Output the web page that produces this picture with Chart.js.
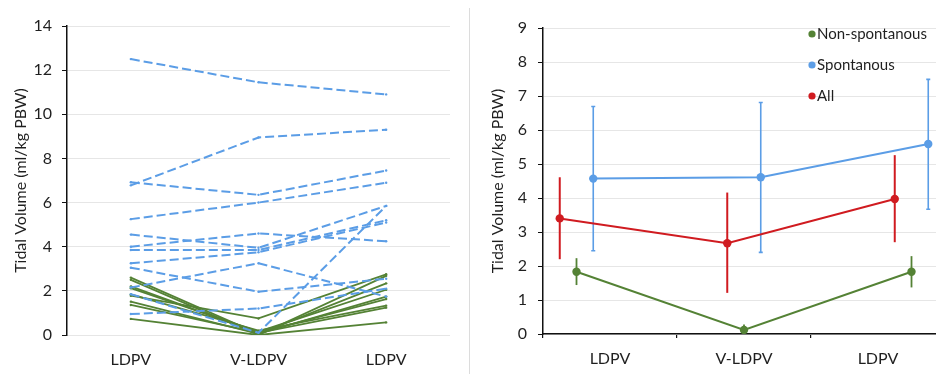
<!DOCTYPE html>
<html>
<head>
<meta charset="utf-8">
<script src="https://cdn.jsdelivr.net/npm/chart.js@4/dist/chart.umd.min.js"></script>
<style>
  html, body { margin: 0; padding: 0; background: #fff; }
  body { width: 936px; height: 374px; position: relative; overflow: hidden; }
  #left { position: absolute; left: 0; top: 0; width: 469px; height: 374px; }
  #right { position: absolute; left: 470px; top: 0; width: 490px; height: 374px; }
  #sep { position: absolute; left: 469px; top: 8px; width: 1px; height: 366px; background: #dcdcdc; }
</style>
</head>
<body>
<div id="left"><canvas id="patientChart"></canvas></div>
<div id="sep"></div>
<div id="right"><canvas id="meanChart"></canvas></div>
<script>
// --- data ---
var categories = ['LDPV', 'V-LDPV', 'LDPV'];
var yTitle = 'Tidal Volume (ml/kg PBW)';

// left panel: one line per patient (LDPV, V-LDPV, LDPV)
var spontPatients = [
  [12.5, 11.45, 10.9],
  [6.78, 8.95, 9.3],
  [6.92, 6.35, 7.45],
  [5.25, 6.0, 6.9],
  [4.55, 3.95, 5.85],
  [4.0, 4.6, 4.25],
  [3.85, 3.85, 5.2],
  [3.25, 3.75, 5.1],
  [3.05, 1.96, 2.55],
  [2.15, 3.25, 1.74],
  [1.85, 0.1, 5.85],
  [0.95, 1.2, 2.1]
];
var nonSpontPatients = [
  [2.6, 0.05, 2.34],
  [2.5, 0.0, 2.68],
  [2.2, 0.1, 1.63],
  [2.12, 0.15, 2.05],
  [1.84, 0.2, 1.33],
  [1.78, 0.75, 2.75],
  [1.51, 0.05, 1.74],
  [1.36, 0.1, 1.24],
  [0.73, 0.0, 0.57]
];

// right panel: group means with error bars
var phase = [1, 2, 3];
var nonSpontMean = [1.83, 0.12, 1.83];
var nonSpontLow  = [1.44, 0.0, 1.37];
var nonSpontHigh = [2.23, 0.28, 2.29];
var spontMean = [4.57, 4.61, 5.59];
var spontLow  = [2.45, 2.40, 3.67];
var spontHigh = [6.69, 6.81, 7.49];
var allMean = [3.40, 2.67, 3.97];
var allLow  = [2.20, 1.21, 2.70];
var allHigh = [4.61, 4.16, 5.26];

var GREEN = '#548235';
var BLUE = '#5B9DE6';
var RED = '#D01B20';
var FONT = 'Lato, "Open Sans", sans-serif';
var TXT = '#1f1f1f';

Chart.defaults.font.family = FONT;
Chart.defaults.color = TXT;

// ---------- left chart ----------
var leftSets = [];
spontPatients.forEach(function (vals) {
  leftSets.push({
    data: vals,
    borderColor: BLUE,
    backgroundColor: BLUE,
    borderWidth: 2,
    borderDash: [9, 4],
    pointRadius: 1.2,
    pointBorderWidth: 0,
    tension: 0
  });
});
nonSpontPatients.forEach(function (vals) {
  leftSets.push({
    data: vals,
    borderColor: GREEN,
    backgroundColor: GREEN,
    borderWidth: 1.8,
    pointRadius: 1.2,
    pointBorderWidth: 0,
    tension: 0
  });
});

new Chart('patientChart', {
  type: 'line',
  data: { labels: categories, datasets: leftSets },
  options: {
    responsive: true,
    maintainAspectRatio: false,
    animation: false,
    layout: { padding: { top: 26, right: 19, bottom: 0, left: 0 } },
    plugins: { legend: { display: false }, tooltip: { enabled: false } },
    scales: {
      x: {
        offset: true,
        grid: { display: false, drawTicks: false },
        border: { display: false },
        ticks: { font: { size: 16 }, padding: 15, color: TXT },
        afterFit: function (s) { s.height = 39; }
      },
      y: {
        min: 0, max: 14,
        ticks: { stepSize: 2, font: { size: 16 }, padding: 10, color: TXT },
        grid: { color: '#e6e6e6', tickColor: '#111', tickLength: 5, lineWidth: 1 },
        border: { color: '#111', width: 1.5 },
        title: { display: true, text: yTitle, font: { size: 16 }, color: TXT, padding: { top: 11, bottom: 0 } },
        afterFit: function (s) { s.width = 67; }
      }
    }
  }
});

// ---------- right chart ----------
var errorBars = {
  id: 'errorBars',
  beforeDatasetsDraw: function (chart) {
    var ctx = chart.ctx;
    var xs = chart.scales.x2, ys = chart.scales.y;
    ctx.save();
    chart.data.datasets.forEach(function (ds) {
      ds.data.forEach(function (p, i) {
        var x = xs.getPixelForValue(p.x);
        var y1 = ys.getPixelForValue(ds.errLow[i]);
        var y2 = ys.getPixelForValue(ds.errHigh[i]);
        ctx.strokeStyle = ds.borderColor;
        ctx.lineWidth = ds.errWidth;
        ctx.beginPath();
        ctx.moveTo(x, y1); ctx.lineTo(x, y2);
        if (ds.errCap) {
          ctx.moveTo(x - ds.errCap, y1); ctx.lineTo(x + ds.errCap, y1);
          ctx.moveTo(x - ds.errCap, y2); ctx.lineTo(x + ds.errCap, y2);
        }
        ctx.stroke();
      });
    });
    ctx.restore();
  }
};

var insideLegend = {
  id: 'insideLegend',
  afterDraw: function (chart, args, opts) {
    var ctx = chart.ctx;
    ctx.save();
    ctx.font = '15px ' + FONT;
    ctx.textBaseline = 'middle';
    opts.order.forEach(function (idx, i) {
      var ds = chart.data.datasets[idx];
      var y = opts.y + i * opts.step;
      ctx.fillStyle = ds.borderColor;
      ctx.beginPath();
      ctx.arc(opts.x, y, 3.6, 0, Math.PI * 2);
      ctx.fill();
      ctx.fillStyle = TXT;
      ctx.fillText(ds.label, opts.x + 5, y);
    });
    ctx.restore();
  }
};

function pts(xOffset, ys) {
  return ys.map(function (v, i) { return { x: phase[i] + xOffset, y: v }; });
}

new Chart('meanChart', {
  type: 'line',
  data: {
    labels: categories,
    datasets: [
      {
        label: 'Spontanous', data: pts(0.1, spontMean),
        errLow: spontLow, errHigh: spontHigh, errWidth: 1.6, errCap: 2,
        borderColor: BLUE, backgroundColor: BLUE, borderWidth: 2,
        pointRadius: 4.2, pointBorderWidth: 0, xAxisID: 'x2'
      },
      {
        label: 'All', data: pts(-0.1, allMean),
        errLow: allLow, errHigh: allHigh, errWidth: 2, errCap: 0,
        borderColor: RED, backgroundColor: RED, borderWidth: 2,
        pointRadius: 4.2, pointBorderWidth: 0, xAxisID: 'x2'
      },
      {
        label: 'Non-spontanous', data: pts(0, nonSpontMean),
        errLow: nonSpontLow, errHigh: nonSpontHigh, errWidth: 1.8, errCap: 0,
        borderColor: GREEN, backgroundColor: GREEN, borderWidth: 2,
        pointRadius: 4.2, pointBorderWidth: 0, xAxisID: 'x2'
      }
    ]
  },
  options: {
    responsive: true,
    maintainAspectRatio: false,
    animation: false,
    layout: { padding: { top: 28, right: 15, bottom: 0, left: 0 } },
    plugins: {
      legend: { display: false },
      tooltip: { enabled: false },
      insideLegend: { order: [2, 0, 1], x: 342, y: 34, step: 31 }
    },
    scales: {
      x: {
        type: 'category',
        offset: true,
        grid: { offset: true, drawOnChartArea: false, color: '#111', tickLength: 4, lineWidth: 1.2 },
        border: { color: '#111', width: 1.5 },
        ticks: { font: { size: 16 }, padding: 11, color: TXT },
        afterFit: function (s) { s.height = 40; }
      },
      x2: {
        type: 'linear', display: false, min: 0.8, max: 3.2
      },
      y: {
        min: 0, max: 9,
        ticks: { stepSize: 1, font: { size: 16 }, padding: 11, color: TXT },
        grid: { color: '#e6e6e6', tickColor: '#111', tickLength: 5, lineWidth: 1 },
        border: { color: '#111', width: 1.5 },
        title: { display: true, text: yTitle, font: { size: 16 }, color: TXT, padding: { top: 18, bottom: 0 } },
        afterFit: function (s) { s.width = 73; }
      }
    }
  },
  plugins: [errorBars, insideLegend]
});
</script>
</body>
</html>
